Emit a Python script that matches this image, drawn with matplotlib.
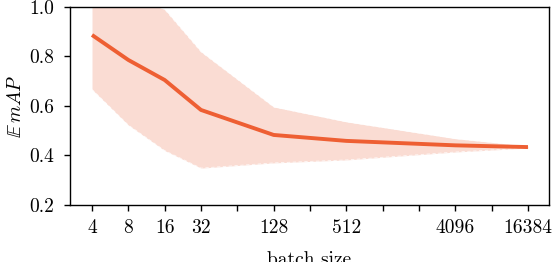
import numpy as np
import matplotlib
matplotlib.use("Agg")
import matplotlib.pyplot as plt
from matplotlib.ticker import FixedLocator, NullLocator

plt.rcParams["font.family"] = "serif"
plt.rcParams["font.serif"] = ["cmr10", "DejaVu Serif"]
plt.rcParams["mathtext.fontset"] = "cm"
plt.rcParams["axes.unicode_minus"] = False
plt.rcParams["font.size"] = 14

batch = [4, 8, 16, 32, 128, 512, 4096, 16384]
mean_map = [0.887, 0.786, 0.705, 0.584, 0.483, 0.459, 0.441, 0.434]
std_map = [0.22, 0.263, 0.285, 0.235, 0.113, 0.077, 0.027, 0.004]

all_ticks = [2 ** k for k in range(2, 15)]
tick_labels = ["4", "8", "16", "32", "128", "512", "4096", "16384"]

line_color = "#ee5f33"
band_color = (230 / 255, 80 / 255, 35 / 255)

fig = plt.figure(figsize=(5.54, 2.62), dpi=100)
ax = fig.add_axes([0.1264, 0.2176, 0.8646, 0.7557])

m = np.array(mean_map)
s = np.array(std_map)
ax.fill_between(batch, m - s, m + s, color=band_color, alpha=0.2, linewidth=0)
ax.plot(batch, m + s, color="white", lw=0.6, ls=(0, (4, 3)), alpha=0.8)
ax.plot(batch, m - s, color="white", lw=0.6, ls=(0, (4, 3)), alpha=0.8)
ax.plot(batch, m, color=line_color, lw=2.8, solid_capstyle="butt")

ax.set_xscale("log", base=2)
ax.set_xlim(2.63, 24480)
ax.xaxis.set_major_locator(FixedLocator(all_ticks))
ax.xaxis.set_minor_locator(NullLocator())
ax.set_xticklabels([str(t) if str(t) in tick_labels else "" for t in all_ticks])

ax.set_ylim(0.2, 1.0)
ax.set_yticks([0.2, 0.4, 0.6, 0.8, 1.0])
ax.set_yticklabels(["0.2", "0.4", "0.6", "0.8", "1.0"])

ax.tick_params(direction="out", length=4.5, width=1)
ax.tick_params(axis="x", pad=6)
ax.tick_params(axis="y", pad=7)
for sp in ax.spines.values():
    sp.set_linewidth(1)

ax.set_xlabel("batch size", labelpad=10)
ax.set_ylabel(r"$\mathbb{E}\,mAP$", labelpad=3)

fig.savefig("out.png", dpi=100)
